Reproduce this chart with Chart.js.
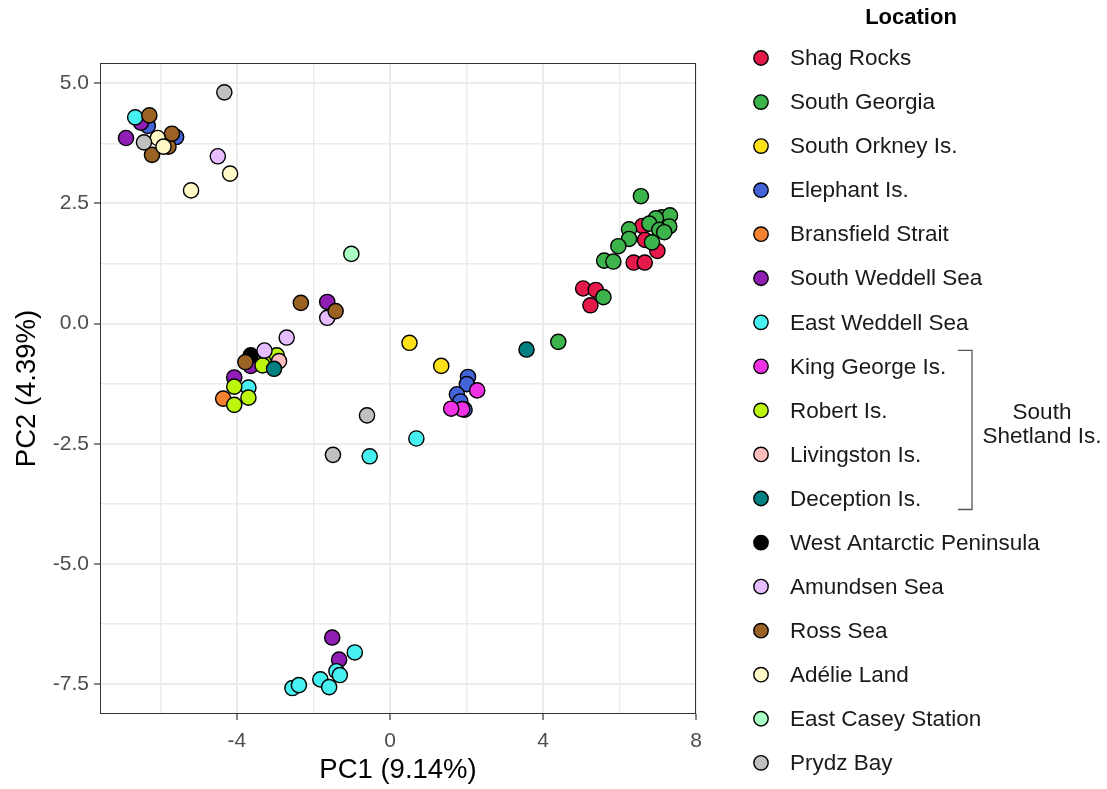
<!DOCTYPE html>
<html>
<head>
<meta charset="UTF-8">
<title>PCA by Location</title>
<script src="https://cdn.jsdelivr.net/npm/chart.js"></script>
<style>
  html, body { margin: 0; padding: 0; background: #ffffff; }
  #wrap { width: 1107px; height: 789px; }
</style>
</head>
<body>
<div id="wrap"><canvas id="pcaChart" width="1107" height="789"></canvas></div>
<script>
    // sample scores, [PC1, PC2] per location
    const shagRocks = [[6.60, 2.03], [6.67, 1.74], [6.99, 1.51], [6.37, 1.27], [6.66, 1.27],
        [5.05, 0.73], [5.38, 0.70], [5.24, 0.38]];
    const southGeorgia = [[6.56, 2.65], [7.11, 2.21], [7.32, 2.25], [6.95, 2.19], [6.78, 2.08],
        [7.30, 2.02], [7.04, 1.95], [7.17, 1.90], [6.25, 1.96], [6.25, 1.76], [6.85, 1.69],
        [5.97, 1.61], [5.60, 1.31], [5.84, 1.29], [5.58, 0.55], [4.40, -0.38]];
    const southOrkney = [[0.51, -0.40], [1.34, -0.88]];
    const elephantIs = [[-6.33, 4.11], [-5.59, 3.88], [2.04, -1.11], [2.01, -1.26], [1.75, -1.47],
        [1.84, -1.62], [1.95, -1.79]];
    const bransfield = [[-4.36, -1.56]];
    const southWeddell = [[-6.51, 4.18], [-6.90, 3.86], [-1.64, 0.45], [-3.64, -0.88], [-4.07, -1.12],
        [-1.51, -6.53], [-1.33, -6.99]];
    const eastWeddell = [[-6.66, 4.29], [-3.70, -1.33], [0.69, -2.39], [-0.53, -2.76], [-0.92, -6.84],
        [-1.40, -7.23], [-1.31, -7.31], [-1.82, -7.40], [-1.59, -7.56], [-2.55, -7.58], [-2.38, -7.52]];
    const kingGeorge = [[2.28, -1.39], [1.89, -1.78], [1.60, -1.77]];
    const robertIs = [[-3.23, -0.78], [-2.96, -0.66], [-3.33, -0.87], [-4.07, -1.31], [-3.70, -1.54],
        [-4.07, -1.69]];
    const livingston = [[-2.90, -0.78]];
    const deception = [[-3.03, -0.94], [3.57, -0.54]];
    const westAntarctic = [[-3.64, -0.66]];
    const amundsen = [[-4.50, 3.48], [-2.70, -0.29], [-1.64, 0.12], [-3.28, -0.56]];
    const rossSea = [[-6.29, 4.33], [-6.22, 3.51], [-5.79, 3.68], [-5.70, 3.95], [-2.33, 0.43],
        [-1.42, 0.26], [-3.78, -0.80]];
    const adelieLand = [[-6.07, 3.86], [-5.92, 3.68], [-4.18, 3.12], [-5.20, 2.77]];
    const eastCasey = [[-1.01, 1.45]];
    const prydzBay = [[-4.33, 4.81], [-6.43, 3.77], [-0.60, -1.91], [-1.49, -2.73]];

    const locations = ['Shag Rocks', 'South Georgia', 'South Orkney Is.', 'Elephant Is.',
        'Bransfield Strait', 'South Weddell Sea', 'East Weddell Sea', 'King George Is.',
        'Robert Is.', 'Livingston Is.', 'Deception Is.', 'West Antarctic Peninsula',
        'Amundsen Sea', 'Ross Sea', 'Adélie Land', 'East Casey Station', 'Prydz Bay'];
    const scores = [shagRocks, southGeorgia, southOrkney, elephantIs, bransfield, southWeddell,
        eastWeddell, kingGeorge, robertIs, livingston, deception, westAntarctic, amundsen,
        rossSea, adelieLand, eastCasey, prydzBay];
    const colors = ['#e6194b', '#3cb44b', '#ffe119', '#4363d8', '#f58231', '#911eb4', '#46f0f0',
        '#f032e6', '#bcf60c', '#fabebe', '#008080', '#000000', '#e6beff', '#9a6324', '#fffac8',
        '#aaffc3', '#c0c0c0'];

    const xGrid = [-6, -4, -2, 0, 2, 4, 6, 8];
    const xLabels = [-4, 0, 4, 8];
    const yGrid = [-7.5, -6.25, -5, -3.75, -2.5, -1.25, 0, 1.25, 2.5, 3.75, 5];
    const yLabels = [-7.5, -5, -2.5, 0, 2.5, 5];

    const FONT = "'Liberation Sans', Arial, sans-serif";
    const isOn = (list, v) => list.some(l => Math.abs(l - v) < 1e-9);

    const panelBorder = {
        id: 'panelBorder',
        afterDatasetsDraw(chart) {
            const { ctx, chartArea: a } = chart;
            ctx.save();
            ctx.strokeStyle = '#333333';
            ctx.lineWidth = 1;
            ctx.strokeRect(Math.round(a.left) + 0.5, Math.round(a.top) + 0.5,
                Math.round(a.right - a.left) - 1, Math.round(a.bottom - a.top) - 1);
            ctx.restore();
        }
    };

    // ggplot-like legend with a bracket for the South Shetland group
    const sideLegend = {
        id: 'sideLegend',
        afterDraw(chart) {
            const ctx = chart.ctx;
            const x0 = 761, y0 = 58, step = 44.05;
            ctx.save();
            ctx.fillStyle = '#000000';
            ctx.textBaseline = 'middle';
            ctx.textAlign = 'center';
            ctx.font = 'bold 22px ' + FONT;
            ctx.fillText('Location', 911, 18);
            ctx.font = '22.5px ' + FONT;
            chart.data.datasets.forEach((ds, i) => {
                const y = y0 + i * step;
                ctx.beginPath();
                ctx.arc(x0, y, 7.2, 0, Math.PI * 2);
                ctx.fillStyle = ds.backgroundColor;
                ctx.fill();
                ctx.lineWidth = 1.4;
                ctx.strokeStyle = '#000000';
                ctx.stroke();
                ctx.fillStyle = '#1a1a1a';
                ctx.textAlign = 'left';
                ctx.fillText(ds.label, 790, y + 1);
            });
            // bracket
            const top = y0 + 7 * step - 16, bot = y0 + 10 * step + 11;
            ctx.beginPath();
            ctx.strokeStyle = '#555555';
            ctx.lineWidth = 1.3;
            ctx.moveTo(958, top);
            ctx.lineTo(972, top);
            ctx.lineTo(972, bot);
            ctx.lineTo(958, bot);
            ctx.stroke();
            ctx.fillStyle = '#1a1a1a';
            ctx.textAlign = 'center';
            ctx.fillText('South', 1042, 413);
            ctx.fillText('Shetland Is.', 1042, 437);
            ctx.restore();
        }
    };

    const datasets = locations.map((name, i) => ({
        label: name,
        data: scores[i].map(p => ({ x: p[0], y: p[1] })),
        backgroundColor: colors[i],
        borderColor: '#000000',
        borderWidth: 1.4,
        pointRadius: 7.6,
        order: locations.length - i
    }));

    new Chart(document.getElementById('pcaChart').getContext('2d'), {
        type: 'scatter',
        data: { datasets: datasets },
        options: {
            responsive: false,
            animation: false,
            events: [],
            layout: { padding: { top: 63, right: 411, left: 0, bottom: 0 } },
            plugins: {
                legend: { display: false },
                tooltip: { enabled: false }
            },
            scales: {
                x: {
                    type: 'linear',
                    min: -7.58,
                    max: 8.0,
                    afterBuildTicks: s => { s.ticks = xGrid.map(v => ({ value: v })); },
                    afterFit: s => { s.height = 75; },
                    ticks: {
                        color: '#4d4d4d',
                        font: { size: 21, family: FONT },
                        padding: 9,
                        maxRotation: 0,
                        autoSkip: false,
                        callback: v => isOn(xLabels, v) ? String(v) : ''
                    },
                    grid: {
                        color: '#ebebeb',
                        lineWidth: c => c.tick && isOn(xLabels, c.tick.value) ? 2 : 1.4,
                        tickColor: c => c.tick && isOn(xLabels, c.tick.value) ? '#333333' : 'rgba(0,0,0,0)',
                        tickLength: 6,
                        tickWidth: 1.2
                    },
                    border: { display: false },
                    title: {
                        display: true,
                        text: 'PC1 (9.14%)',
                        color: '#000000',
                        font: { size: 27.5, family: FONT },
                        padding: { top: 0, bottom: 2 }
                    }
                },
                y: {
                    type: 'linear',
                    min: -8.12,
                    max: 5.42,
                    afterBuildTicks: s => { s.ticks = yGrid.map(v => ({ value: v })); },
                    afterFit: s => { s.width = 100; },
                    ticks: {
                        color: '#4d4d4d',
                        font: { size: 21, family: FONT },
                        padding: 5,
                        autoSkip: false,
                        callback: v => isOn(yLabels, v) ? v.toFixed(1) : ''
                    },
                    grid: {
                        color: '#ebebeb',
                        lineWidth: c => c.tick && isOn(yLabels, c.tick.value) ? 2 : 1.4,
                        tickColor: c => c.tick && isOn(yLabels, c.tick.value) ? '#333333' : 'rgba(0,0,0,0)',
                        tickLength: 6,
                        tickWidth: 1.2
                    },
                    border: { display: false },
                    title: {
                        display: true,
                        text: 'PC2 (4.39%)',
                        color: '#000000',
                        font: { size: 27.5, family: FONT },
                        padding: { top: 11, bottom: 0 }
                    }
                }
            }
        },
        plugins: [panelBorder, sideLegend]
    });
</script>
</body>
</html>
